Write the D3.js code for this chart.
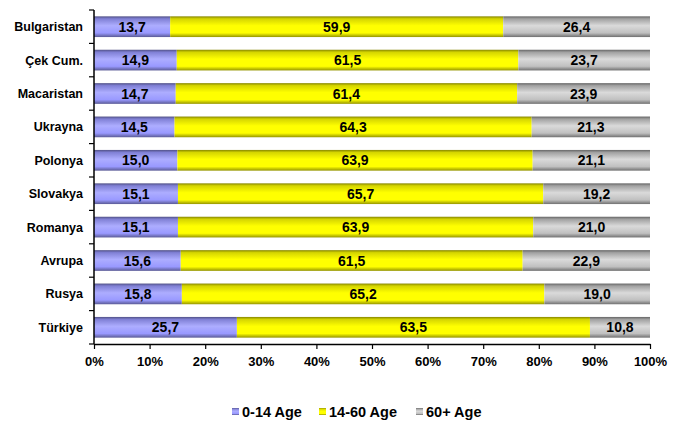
<!DOCTYPE html>
<html><head><meta charset="utf-8">
<script src="https://cdn.jsdelivr.net/npm/d3@7"></script>
<style>body{margin:0;background:#fff}svg{display:block}text{font-family:"Liberation Sans",Arial,sans-serif;font-weight:bold}</style>
</head><body><svg id="c" width="673" height="427"></svg>
<script>
const categories = ["Bulgaristan","Çek Cum.","Macaristan","Ukrayna","Polonya","Slovakya","Romanya","Avrupa","Rusya","Türkiye"];
const age0_14  = [13.7,14.9,14.7,14.5,15.0,15.1,15.1,15.6,15.8,25.7];
const age14_60 = [59.9,61.5,61.4,64.3,63.9,65.7,63.9,61.5,65.2,63.5];
const age60p   = [26.4,23.7,23.9,21.3,21.1,19.2,21.0,22.9,19.0,10.8];
const seriesNames = ["0-14 Age","14-60 Age","60+ Age"];
const tickValues = [0,0.1,0.2,0.3,0.4,0.5,0.6,0.7,0.8,0.9,1];

const colors = {"0-14 Age":"#9999FF","14-60 Age":"#FFFF00","60+ Age":"#C0C0C0"};
const svg = d3.select("#c");
const m = {l:94, r:23, t:10, b:83};
const W = 673, H = 427;
const x = d3.scaleLinear().domain([0,1]).range([m.l, W-m.r]);
const y = d3.scaleBand().domain(categories).range([m.t, H-m.b]).paddingInner(0.38).paddingOuter(0.19);

const defs = svg.append("defs");
seriesNames.forEach((s,i)=>{
  const c = d3.color(colors[s]);
  const g = defs.append("linearGradient").attr("id","g"+i).attr("x1",0).attr("x2",0).attr("y1",0).attr("y2",1);
  [[0,c.darker(1.8)],[0.12,c.darker(0.5)],[0.45,c.brighter(0.35)],[0.8,c],[1,c.darker(1.5)]].forEach(([o,col])=>{
    g.append("stop").attr("offset",o).attr("stop-color",col.formatHex());
  });
});

const data = categories.map((c,i)=>({cat:c, "0-14 Age":age0_14[i], "14-60 Age":age14_60[i], "60+ Age":age60p[i]}));
const stack = d3.stack().keys(seriesNames).offset(d3.stackOffsetExpand);
const layers = stack(data);

layers.forEach((layer,i)=>{
  const g = svg.append("g");
  g.selectAll("rect").data(layer).enter().append("rect")
    .attr("x",d=>x(d[0])).attr("width",d=>x(d[1])-x(d[0]))
    .attr("y",d=>y(d.data.cat)).attr("height",y.bandwidth())
    .attr("fill","url(#g"+i+")");
  g.selectAll("text").data(layer).enter().append("text")
    .attr("x",d=>(x(d[0])+x(d[1]))/2).attr("y",d=>y(d.data.cat)+y.bandwidth()/2+5)
    .attr("text-anchor","middle").attr("font-size",14).attr("fill","#000")
    .text(d=>d.data[layer.key].toFixed(1).replace(".",","));
});

// axes
const xAxis = d3.axisBottom(x).tickValues(tickValues).tickFormat(d3.format(".0%")).tickSize(5).tickSizeOuter(0);
const gx = svg.append("g").attr("transform",`translate(0,${H-m.b})`).call(xAxis);
gx.select(".domain").attr("stroke","#000").attr("stroke-width",1.5);
gx.selectAll(".tick line").attr("stroke","#000").attr("stroke-width",1.2);
gx.selectAll("text").attr("font-size",13).attr("dy","1.1em").attr("fill","#000");

const yAxisG = svg.append("g").attr("transform",`translate(${m.l},0)`);
yAxisG.append("line").attr("x1",0).attr("x2",0).attr("y1",m.t).attr("y2",H-m.b).attr("stroke","#000").attr("stroke-width",1.5);
const bounds = d3.range(categories.length+1).map(i=>m.t + i*(H-m.t-m.b)/categories.length);
yAxisG.selectAll(".yt").data(bounds).enter().append("line")
  .attr("x1",-5).attr("x2",0).attr("y1",d=>d).attr("y2",d=>d).attr("stroke","#000").attr("stroke-width",1.2);
yAxisG.selectAll(".yl").data(categories).enter().append("text")
  .attr("x",-11).attr("y",d=>y(d)+y.bandwidth()/2+4.5).attr("text-anchor","end").attr("font-size",12.5).attr("fill","#000")
  .text(d=>d);

// legend
const legX = [232,319,416];
const leg = svg.append("g");
seriesNames.forEach((s,i)=>{
  leg.append("rect").attr("x",legX[i]).attr("y",408).attr("width",7).attr("height",7).attr("fill","url(#g"+i+")");
  leg.append("text").attr("x",legX[i]+10).attr("y",417).attr("font-size",14.5).attr("fill","#000").text(s);
});
</script></body></html>
